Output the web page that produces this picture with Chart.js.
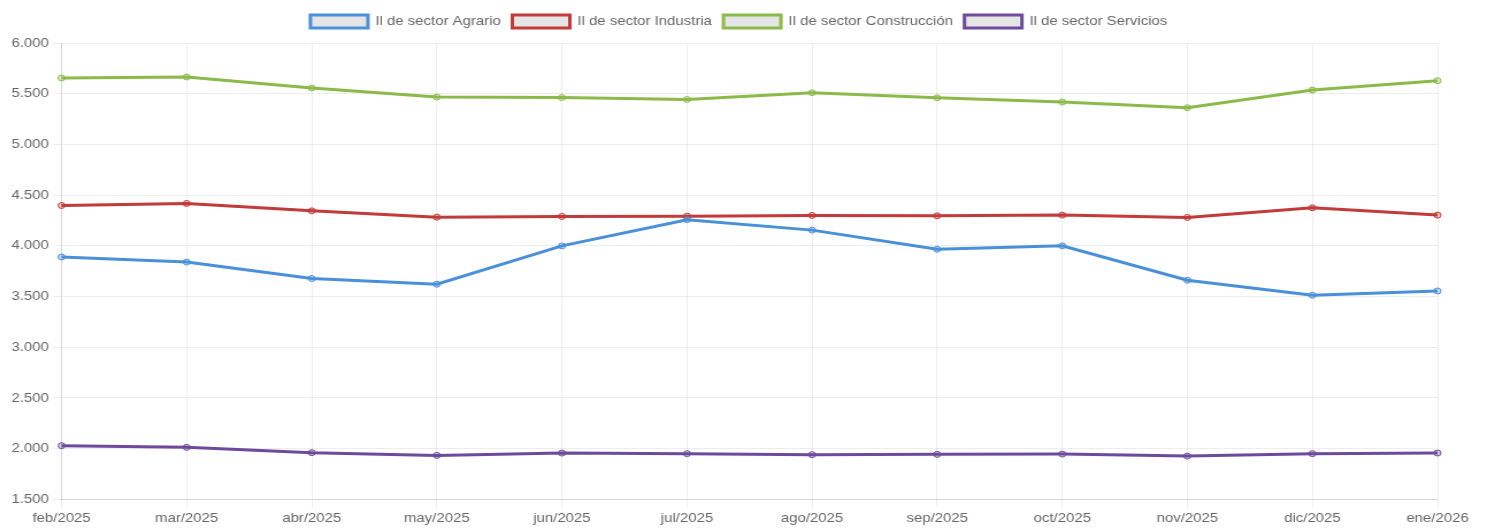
<!DOCTYPE html>
<html>
<head>
<meta charset="utf-8">
<script src="https://cdn.jsdelivr.net/npm/chart.js@4/dist/chart.umd.min.js"></script>
<style>
  html, body { margin: 0; padding: 0; background: #fff; overflow: hidden; }
  /* the reference is a bit stretched sideways, so draw narrower and scale x */
  #wrap { width: 1292px; height: 531px; transform: scaleX(1.15); transform-origin: 0 0; }
</style>
</head>
<body>
<div id="wrap"><canvas id="myChart"></canvas></div>
<script>
var meses = ['feb/2025', 'mar/2025', 'abr/2025', 'may/2025', 'jun/2025', 'jul/2025', 'ago/2025', 'sep/2025', 'oct/2025', 'nov/2025', 'dic/2025', 'ene/2026'];

var agrario = [3890, 3840, 3678, 3622, 4000, 4258, 4155, 3967, 4000, 3661, 3513, 3555];
var industria = [4398, 4418, 4345, 4283, 4290, 4293, 4300, 4296, 4303, 4280, 4375, 4303];
var construccion = [5655, 5665, 5556, 5467, 5462, 5444, 5510, 5460, 5418, 5362, 5536, 5628];
var servicios = [2030, 2013, 1961, 1934, 1957, 1951, 1941, 1944, 1947, 1927, 1951, 1957];

var yTicks = [1500, 2000, 2500, 3000, 3500, 4000, 4500, 5000, 5500, 6000];

var fuente = 'Arial, "Liberation Sans", sans-serif';

function serie(label, data, color, light) {
    return {
        label: label,
        data: data,
        borderColor: color,
        backgroundColor: 'rgba(0,0,0,0.1)',
        borderWidth: 3,
        pointRadius: 3,
        pointBorderWidth: 1,
        pointBorderColor: color,
        pointBackgroundColor: light,
        tension: 0,
        fill: false
    };
}

// extra room under the legend, and keep it centred despite the uneven padding
var legendGap = {
    id: 'legendGap',
    beforeInit: function(chart) {
        var fitOrig = chart.legend.fit;
        chart.legend.fit = function() {
            fitOrig.bind(chart.legend)();
            this.height += 5;
        };
    },
    afterLayout: function(chart) {
        chart.legend.left += 14;
        chart.legend.right += 14;
    }
};

var ctx = document.getElementById('myChart').getContext('2d');
var chart = new Chart(ctx, {
    type: 'line',
    data: {
        labels: meses,
        datasets: [
            serie('Il de sector Agrario', agrario, 'rgb(74,144,217)', 'rgba(74,144,217,0.3)'),
            serie('Il de sector Industria', industria, 'rgb(194,58,58)', 'rgba(194,58,58,0.3)'),
            serie('Il de sector Construcción', construccion, 'rgb(140,186,74)', 'rgba(140,186,74,0.3)'),
            serie('Il de sector Servicios', servicios, 'rgb(110,74,156)', 'rgba(110,74,156,0.3)')
        ]
    },
    plugins: [legendGap],
    options: {
        responsive: true,
        maintainAspectRatio: false,
        animation: false,
        layout: {
            padding: { left: 7, right: 42, top: 5, bottom: 2 }
        },
        plugins: {
            legend: {
                labels: {
                    boxWidth: 50,
                    boxHeight: 13,
                    color: '#666',
                    font: { family: fuente, size: 13 }
                }
            },
            tooltip: { enabled: false }
        },
        scales: {
            x: {
                grid: { color: 'rgba(0,0,0,0.07)' },
                ticks: {
                    color: '#666',
                    maxRotation: 0,
                    autoSkip: false,
                    font: { family: fuente, size: 13 }
                }
            },
            y: {
                min: yTicks[0],
                max: yTicks[yTicks.length - 1],
                afterBuildTicks: function(axis) {
                    axis.ticks = yTicks.map(function(v) { return { value: v }; });
                },
                grid: { color: 'rgba(0,0,0,0.07)' },
                ticks: {
                    color: '#666',
                    font: { family: fuente, size: 13 },
                    callback: function(v) {
                        return v.toLocaleString('de-DE');
                    }
                }
            }
        }
    }
});
</script>
</body>
</html>
